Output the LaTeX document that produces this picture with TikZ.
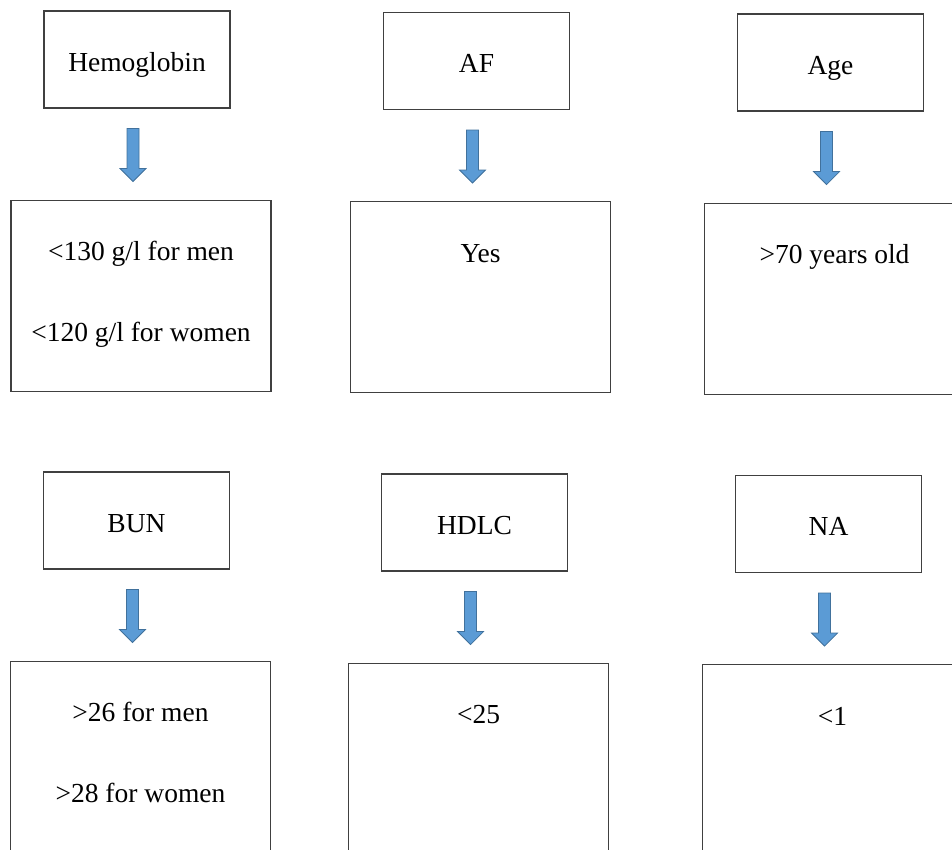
\documentclass[tikz,border=0pt]{standalone}
\usepackage{fontspec}
\setmainfont{Liberation Serif}
\usetikzlibrary{positioning,calc}
\definecolor{arrowbody}{HTML}{5B9BD5}
\definecolor{arrowedge}{HTML}{41719C}
\definecolor{boxline}{HTML}{404040}
\begin{document}
\begin{tikzpicture}[x=1pt, y=-1pt, node distance=91pt, every node/.style={font=\fontsize{27.5}{33}\selectfont}]
    \tikzstyle{factor} = [rectangle, draw=boxline, line width=1.1pt, minimum width=186pt, minimum height=97pt, inner sep=0pt, text height=23pt, text depth=0pt]
    \tikzstyle{cutoff} = [rectangle, draw=boxline, line width=1.1pt, minimum width=260pt, minimum height=191pt, inner sep=0pt]
    \tikzstyle{cutofftext} = [anchor=base, inner sep=0pt]
    \tikzstyle{blockarrow} = [draw=arrowedge, fill=arrowbody, line width=0.8pt,
        to path={let \p1=(\tikztostart.south), \p2=(\tikztotarget.north) in
            (\x1-10pt,\y1-20pt) -- (\x1+2pt,\y1-20pt) -- (\x1+2pt,\y2+31pt) -- (\x1+9pt,\y2+31pt)
            -- (\x1-4pt,\y2+18pt) -- (\x1-17pt,\y2+31pt) -- (\x1-10pt,\y2+31pt) -- cycle}]

    \useasboundingbox (0,0) rectangle (952,849);
    \clip (0,0) rectangle (952,849);

    \node [factor] (hemo) at (137,59.5) {Hemoglobin};
    \node [factor] (af) at (476.5,61) {AF};
    \node [factor] (age) at (830.5,62.5) {Age};
    \node [factor] (bun) at (136.5,520.5) {BUN};
    \node [factor] (hdlc) at (474.5,522.5) {HDLC};
    \node [factor] (na) at (828.5,524) {NA};

    \node [cutoff, below=of hemo, xshift=4pt] (hemov) {};
    \node [cutoff, below=of af, xshift=4pt] (afv) {};
    \node [cutoff, below=of age, xshift=4pt] (agev) {};
    \node [cutoff, below=of bun, xshift=4pt] (bunv) {};
    \node [cutoff, below=of hdlc, xshift=4pt] (hdlcv) {};
    \node [cutoff, below=of na, xshift=4pt] (nav) {};

    \node [cutofftext] (hemot) at ([yshift=-61pt]hemov.north) {\begin{tabular}[t]{@{}c@{}}<130 g/l for men\\[48pt]<120 g/l for women\end{tabular}};
    \node [cutofftext] (aft) at ([yshift=-61pt]afv.north) {Yes};
    \node [cutofftext] (aget) at ([yshift=-61pt]agev.north) {>70 years old};
    \node [cutofftext] (bunt) at ([yshift=-61pt]bunv.north) {\begin{tabular}[t]{@{}c@{}}>26 for men\\[48pt]>28 for women\end{tabular}};
    \node [cutofftext] (hdlct) at ([yshift=-61pt]hdlcv.north) {<25};
    \node [cutofftext] (nat) at ([yshift=-61pt]nav.north) {<1};

    \draw [blockarrow] (hemo) to (hemov);
    \draw [blockarrow] (af) to (afv);
    \draw [blockarrow] (age) to (agev);
    \draw [blockarrow] (bun) to (bunv);
    \draw [blockarrow] (hdlc) to (hdlcv);
    \draw [blockarrow] (na) to (nav);
\end{tikzpicture}
\end{document}
